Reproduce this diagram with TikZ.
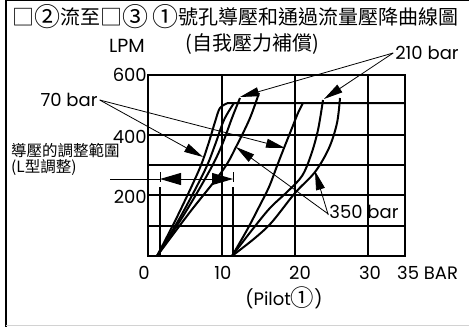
\documentclass[tikz,border=0pt]{standalone}
\usepackage{fontspec}
\usepackage{graphicx}
\setmainfont{Poppins}
\newfontfamily\cjk{Noto Sans CJK TC}
\usetikzlibrary{arrows.meta}

\newcommand\cnum[1]{\raisebox{-0.1em}{\scalebox{1.3}{\cjk #1}}}
\newcommand\cbox{\raisebox{-0.04em}{\scalebox{1.1}{\cjk □}}}

\tikzset{
  gridline/.style = {line width=1.2pt},
  curve/.style = {line width=2pt, smooth, tension=0.55},
  pointer/.style = {line width=0.8pt, -{Triangle[length=19pt,width=9pt]}},
  txt/.style = {inner sep=0pt, font=\fontsize{18}{18}\selectfont},
  cjktxt/.style = {inner sep=0pt, font=\cjk\fontsize{20}{20}\selectfont}
}

\begin{document}
\begin{tikzpicture}[x=1pt, y=-1pt]
            \useasboundingbox (0,0) rectangle (469,327);
            % frame
            \draw[line width=1.5pt] (6,0) -- (6,327);
            \draw[line width=1.2pt] (6,0.6) -- (469,0.6);
            \draw[gray!35, line width=1pt] (6,325.5) -- (469,325.5);
            % title
            \node[cjktxt, anchor=west] (title) at (12,17) {\cbox\cnum{②}流至\cbox\cnum{③} \cnum{①}號孔導壓和通過流量壓降曲線圖};
            \node[txt, font=\fontsize{19}{19}\selectfont] (lpm) at (127,46) {LPM};
            \node[cjktxt] (comp) at (252,44) {(自我壓力補償)};
            % grid
            \draw[gridline] (148,75) rectangle (405,256);
            \draw[gridline] (222,75) -- (222,256);
            \draw[gridline] (295,75) -- (295,256);
            \draw[gridline] (368,75) -- (368,256);
            \draw[gridline] (148,135) -- (405,135);
            \draw[gridline] (148,165) -- (405,165);
            \draw[gridline] (148,195) -- (405,195);
            \draw[gridline] (148,226) -- (405,226);
            % axis numbers
            \node[txt, anchor=east] (y600) at (147,75) {600};
            \node[txt, anchor=east] (y400) at (147,137) {400};
            \node[txt, anchor=east] (y200) at (147,197) {200};
            \node[txt] (x0) at (144,273) {0};
            \node[txt] (x10) at (223,273) {10};
            \node[txt] (x20) at (300,273) {20};
            \node[txt] (x30) at (370,273) {30};
            \node[txt, anchor=west] (x35) at (397,273) {35 BAR};
            \node[txt] (pilot) at (284,298) {(Pilot\cnum{①})};
            % adjusting range
            \node[txt, anchor=west, font=\cjk\fontsize{15.5}{15.5}\selectfont] (range) at (11,151) {導壓的調整範圍};
            \node[txt, anchor=west, font=\cjk\fontsize{15.5}{15.5}\selectfont] (ltype) at (11,168) {(L型調整)};
            \coordinate (rangeL) at (160,179);
            \coordinate (rangeR) at (233,179);
            \draw[line width=1pt] (110,179) -- (rangeL);
            \draw[line width=1pt, {Triangle[length=21pt,width=12pt]}-{Triangle[length=21pt,width=12pt]}] (rangeL) -- (rangeR);
            \draw[line width=1pt] (160,172) -- (160,182);
            \draw[line width=1pt] (233,172) -- (233,182);
            \draw[line width=2pt] (160,187) -- (160,256);
            \draw[line width=2pt] (233,187) -- (233,256);
            % curves from first start
            \draw[curve] plot coordinates {(157,256) (178,215) (199,170) (208,145) (215,122) (220,108) (228,103)} -- (405,103);
            \draw[curve] plot coordinates {(157,256) (182,214) (205,170) (215,145) (224,120) (234,103)};
            \draw[curve] plot coordinates {(157,256) (185,213) (210,170) (222,145) (232,118) (240,98)};
            \draw[curve] plot coordinates {(157,256) (190,212) (223,170) (237,145) (250,118) (259,93)};
            % curves from second start
            \draw[curve] plot coordinates {(232,256) (247,230) (259,207) (269,187) (277,166) (284,148) (292,128) (298,113) (303,103)};
            \draw[curve] plot coordinates {(232,256) (252,230) (270,208) (287,192) (302,176) (311,155) (318,130) (323,100)};
            \draw[curve] plot coordinates {(232,256) (255,238) (272,222) (295,193) (315,172) (329,148) (337,123) (340,98)};
            % pressure labels
            \node[txt] (l70) at (69,100) {70 bar};
            \node[txt] (l210) at (427,53) {210 bar};
            \node[txt] (l350) at (364,212) {350 bar};
            \coordinate (t70a) at (203,157);
            \coordinate (t70b) at (285,148);
            \coordinate (t210a) at (240,97);
            \coordinate (t210b) at (324,99);
            \coordinate (t350a) at (236,147);
            \coordinate (t350b) at (315,171);
            \draw[pointer] ([xshift=2pt]l70.east) -- (t70a);
            \draw[pointer] ([xshift=2pt]l70.east) -- (t70b);
            \draw[pointer] ([xshift=-2pt]l210.west) -- (t210a);
            \draw[pointer] ([xshift=-2pt]l210.west) -- (t210b);
            \draw[pointer] ([xshift=-1pt,yshift=-2pt]l350.west) -- (t350a);
            \draw[pointer] ([xshift=-1pt,yshift=-3pt]l350.west) -- (t350b);
\end{tikzpicture}
\end{document}
